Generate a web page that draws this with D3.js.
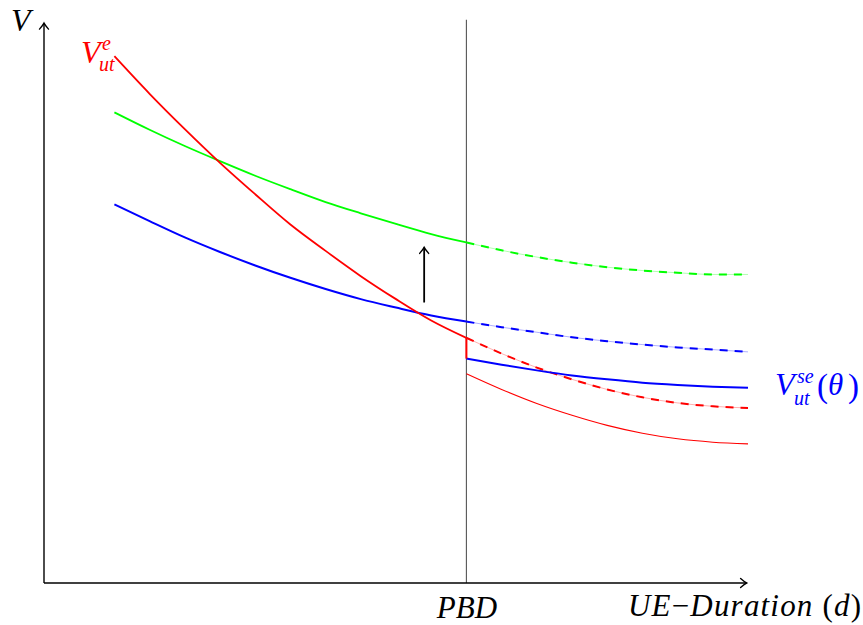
<!DOCTYPE html>
<html>
<head>
<meta charset="utf-8">
<script src="https://cdn.jsdelivr.net/npm/d3@7"></script>
<style>
  html, body { margin: 0; padding: 0; background: #fff; }
  svg { display: block; }
  text { font-family: "Liberation Serif", "Times New Roman", serif; }
</style>
</head>
<body>
<svg id="chart" width="863" height="625"></svg>
<script>
// ---- data ----
const xBefore = [10, 15, 20, 25, 30, 35, 40, 45, 50, 55, 60];
const xAfter  = [60, 65, 70, 75, 80, 85, 90, 95, 100];

const redBefore   = [93.9, 87.2, 80.9, 74.9, 69.3, 63.9, 59.2, 54.7, 50.6, 46.8, 43.7];
const greenBefore = [83.9, 80.8, 77.9, 75.2, 72.6, 70.2, 67.9, 65.9, 64.0, 62.2, 60.7];
const blueBefore  = [67.5, 64.5, 61.6, 59.0, 56.6, 54.4, 52.4, 50.6, 49.1, 47.7, 46.6];

const greenAfterDashed = [60.7, 59.3, 58.1, 57.1, 56.3, 55.7, 55.3, 55.0, 55.0];
const blueAfterDashed  = [46.6, 45.6, 44.7, 43.8, 43.1, 42.5, 42.0, 41.6, 41.2];
const redAfterDashed   = [43.7, 40.9, 38.4, 36.3, 34.5, 33.1, 32.1, 31.5, 31.2];
const blueAfter        = [40.0, 38.9, 37.9, 37.0, 36.3, 35.7, 35.3, 35.0, 34.8];
const redAfter         = [37.3, 34.5, 32.0, 29.9, 28.1, 26.7, 25.7, 25.1, 24.8];

const pbd = 60;
const pbdLabel = ["PBD"];
const jump = [43.7, 40.0];          // red drop at PBD (solid red -> solid blue)
const arrowX = 54, arrowY = [50, 60];

// ---- scales ----
const svg = d3.select("#chart");
const x = d3.scaleLinear().domain([0, 100]).range([44, 748]);
const y = d3.scaleLinear().domain([0, 100]).range([583, 22]);

// markers
const defs = svg.append("defs");
defs.append("marker").attr("id", "arr")
  .attr("viewBox", "-8 -6 10 12").attr("refX", 0).attr("refY", 0)
  .attr("markerWidth", 10).attr("markerHeight", 12)
  .attr("markerUnits", "userSpaceOnUse").attr("orient", "auto")
  .append("path").attr("d", "M-6,-4.5 Q-2,-1 0,0 Q-2,1 -6,4.5")
  .attr("fill", "none").attr("stroke", "#000").attr("stroke-width", 1.4)
  .attr("stroke-linecap", "round");

// ---- PBD vertical line ----
svg.append("line")
  .attr("x1", x(pbd)).attr("x2", x(pbd))
  .attr("y1", y(0)).attr("y2", y(100.4))
  .attr("stroke", "#555").attr("stroke-width", 1.1);

// ---- axes ----
const xAxis = d3.axisBottom(x).tickValues([pbd]).tickFormat((d, i) => pbdLabel[i])
  .tickSize(0).tickSizeOuter(0).tickPadding(13);
const gx = svg.append("g").attr("transform", `translate(0,${y(0)})`).call(xAxis);
gx.select(".domain").attr("stroke", "#000").attr("stroke-width", 1.4)
  .attr("d", `M${x(0)},0H${x(99.8)}`).attr("marker-end", "url(#arr)");
gx.selectAll(".tick text")
  .attr("font-style", "italic").attr("font-size", 31).attr("fill", "#000")
  .attr("dy", "0.71em");

const yAxis = d3.axisLeft(y).tickValues([]).tickSize(0).tickSizeOuter(0);
const gy = svg.append("g").attr("transform", `translate(${x(0)},0)`).call(yAxis);
gy.select(".domain").attr("stroke", "#000").attr("stroke-width", 1.4)
  .attr("d", `M0,${y(0)}V${y(99.8)}`).attr("marker-end", "url(#arr)");

// ---- lines ----
const line = d3.line().x(d => x(d[0])).y(d => y(d[1])).curve(d3.curveMonotoneX);
const zip = (xs, ys) => xs.map((v, i) => [v, ys[i]]);

function solid(xs, ys, color, w) {
  svg.append("path").datum(zip(xs, ys)).attr("d", line)
    .attr("fill", "none").attr("stroke", color).attr("stroke-width", w);
}
function dashed(xs, ys, color) {
  svg.append("path").datum(zip(xs, ys)).attr("d", line)
    .attr("fill", "none").attr("stroke", color).attr("stroke-width", 0.9)
    .attr("stroke-opacity", 0.35);
  svg.append("path").datum(zip(xs, ys)).attr("d", line)
    .attr("fill", "none").attr("stroke", color).attr("stroke-width", 2)
    .attr("stroke-dasharray", "8,7");
}

solid(xBefore, greenBefore, "#00ff00", 1.8);
solid(xBefore, blueBefore, "#0000ff", 2);
solid(xBefore, redBefore, "#ff0000", 1.8);

dashed(xAfter, greenAfterDashed, "#00ff00");
dashed(xAfter, blueAfterDashed, "#0000ff");
dashed(xAfter, redAfterDashed, "#ff0000");
solid(xAfter, blueAfter, "#0000ff", 2);
solid(xAfter, redAfter, "#ff0000", 1.1);

// red drop at PBD
svg.append("line").attr("x1", x(pbd)).attr("x2", x(pbd))
  .attr("y1", y(jump[0])).attr("y2", y(jump[1]))
  .attr("stroke", "#ff0000").attr("stroke-width", 2);

// black arrow
svg.append("line").attr("x1", x(arrowX)).attr("x2", x(arrowX))
  .attr("y1", y(arrowY[0])).attr("y2", y(arrowY[1]) + 1)
  .attr("stroke", "#000").attr("stroke-width", 1.8).attr("marker-end", "url(#arr)");

// ---- labels ----
svg.append("text").attr("x", 11).attr("y", 31).attr("font-size", 32)
  .attr("font-style", "italic").attr("fill", "#000").text("V");

// V_ut^e (red)
const lr = svg.append("text").attr("fill", "#ff0000").attr("font-style", "italic");
lr.append("tspan").attr("x", 81).attr("y", 63).attr("font-size", 32).text("V");
lr.append("tspan").attr("x", 102).attr("y", 50).attr("font-size", 20).text("e");
lr.append("tspan").attr("x", 99).attr("y", 71).attr("font-size", 20).text("ut");

// V_ut^se(θ) (blue)
const lb = svg.append("text").attr("fill", "#0000ff").attr("font-style", "italic");
lb.append("tspan").attr("x", 775).attr("y", 395).attr("font-size", 32).text("V");
lb.append("tspan").attr("x", 797).attr("y", 383).attr("font-size", 20).text("se");
lb.append("tspan").attr("x", 794).attr("y", 405).attr("font-size", 20).text("ut");
lb.append("tspan").attr("x", 817).attr("y", 397).attr("font-size", 33)
  .attr("font-style", "normal").text("(");
lb.append("tspan").attr("x", 828).attr("y", 395).attr("font-size", 31).text("θ");
lb.append("tspan").attr("x", 848).attr("y", 397).attr("font-size", 33)
  .attr("font-style", "normal").text(")");

// x-axis title
const xt = svg.append("text").attr("x", 628).attr("y", 616)
  .attr("font-size", 31).attr("fill", "#000")
  .attr("textLength", 233).attr("lengthAdjust", "spacing");
xt.append("tspan").attr("font-style", "italic").text("UE");
xt.append("tspan").text("−");
xt.append("tspan").attr("font-style", "italic").text("Duration");
xt.append("tspan").text(" (");
xt.append("tspan").attr("font-style", "italic").text("d");
xt.append("tspan").text(")");
</script>
</body>
</html>
